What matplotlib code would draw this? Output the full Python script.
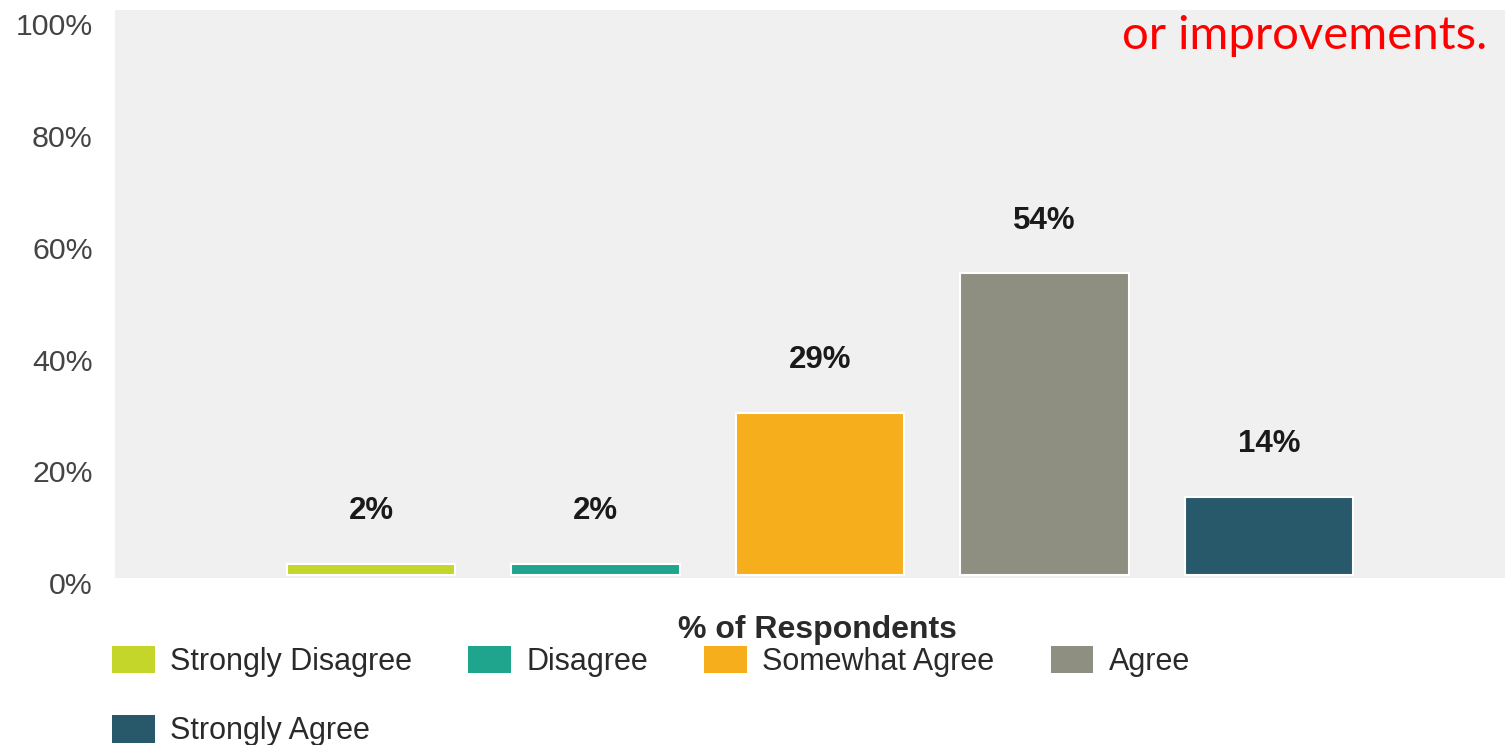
import matplotlib
matplotlib.use("Agg")
import matplotlib.pyplot as plt
from matplotlib.patches import Patch
from matplotlib.transforms import ScaledTranslation

# Survey responses
categories = ["Strongly Disagree", "Disagree", "Somewhat Agree", "Agree", "Strongly Agree"]
percentages = [2, 2, 29, 54, 14]
value_labels = ["2%", "2%", "29%", "54%", "14%"]
bar_colors = ["#c4d62a", "#1fa58e", "#f6ae1c", "#8e8f80", "#27596b"]
y_ticks = [0, 20, 40, 60, 80, 100]
y_tick_labels = ["0%", "20%", "40%", "60%", "80%", "100%"]
legend_title = "% of Respondents"
note_text = "or improvements."

W, H, DPI = 1505, 745, 100
fig = plt.figure(figsize=(W / DPI, H / DPI), dpi=DPI, facecolor="white")

ax = fig.add_axes([115 / W, 1 - 578 / H, 1 - 115 / W, (578 - 10) / H])
ax.set_facecolor("#f0f0f0")

x = list(range(len(categories)))
ax.bar(x, percentages, width=0.75, color=bar_colors, edgecolor="white",
       linewidth=1.5, zorder=2)

for xi, v, lab in zip(x, percentages, value_labels):
    ax.annotate(lab, (xi, v), xytext=(0, 38), textcoords="offset points",
                ha="center", va="center", fontsize=22.5, fontweight="bold",
                color="#1a1a1a", family="Liberation Sans", zorder=3)

ax.set_xlim(-1.14, 5.05)
ax.set_ylim(-0.5, 101.1)
ax.set_xticks([])
ax.set_yticks(y_ticks)
ax.set_yticklabels(y_tick_labels)
ax.tick_params(axis="y", length=0, pad=16, labelsize=21.8, labelcolor="#444444")
for lbl in ax.get_yticklabels():
    lbl.set_family("Liberation Sans")
    lbl.set_va("center")
    lbl.set_transform(lbl.get_transform() + ScaledTranslation(0, -11 / DPI, fig.dpi_scale_trans))
for s in ax.spines.values():
    s.set_visible(False)

# Legend below the plot area
order = [0, 4, 1, 2, 3]
handles = [Patch(facecolor=bar_colors[i], edgecolor="none") for i in order]
labels = [categories[i] for i in order]
fig.legend(handles, labels, ncol=4, loc="upper left",
           bbox_to_anchor=(112 / W, 1 - 646 / H), frameon=False,
           borderpad=0, borderaxespad=0,
           handlelength=1.4, handleheight=1.0, handletextpad=0.5,
           columnspacing=1.84, labelspacing=1.25,
           prop={"family": "Liberation Sans", "size": 22})
for t in fig.legends[0].get_texts():
    t.set_color("#2a2a2a")

fig.text(817 / W, 1 - 630 / H, legend_title, ha="center", va="center",
         fontsize=23, fontweight="bold", color="#2a2a2a", family="Liberation Sans")

fig.text(1487 / W, 1 - 36 / H, note_text, ha="right", va="center",
         fontsize=34, color="#ff0000", family="Lato")

fig.savefig("out.png", dpi=DPI, facecolor="white")
